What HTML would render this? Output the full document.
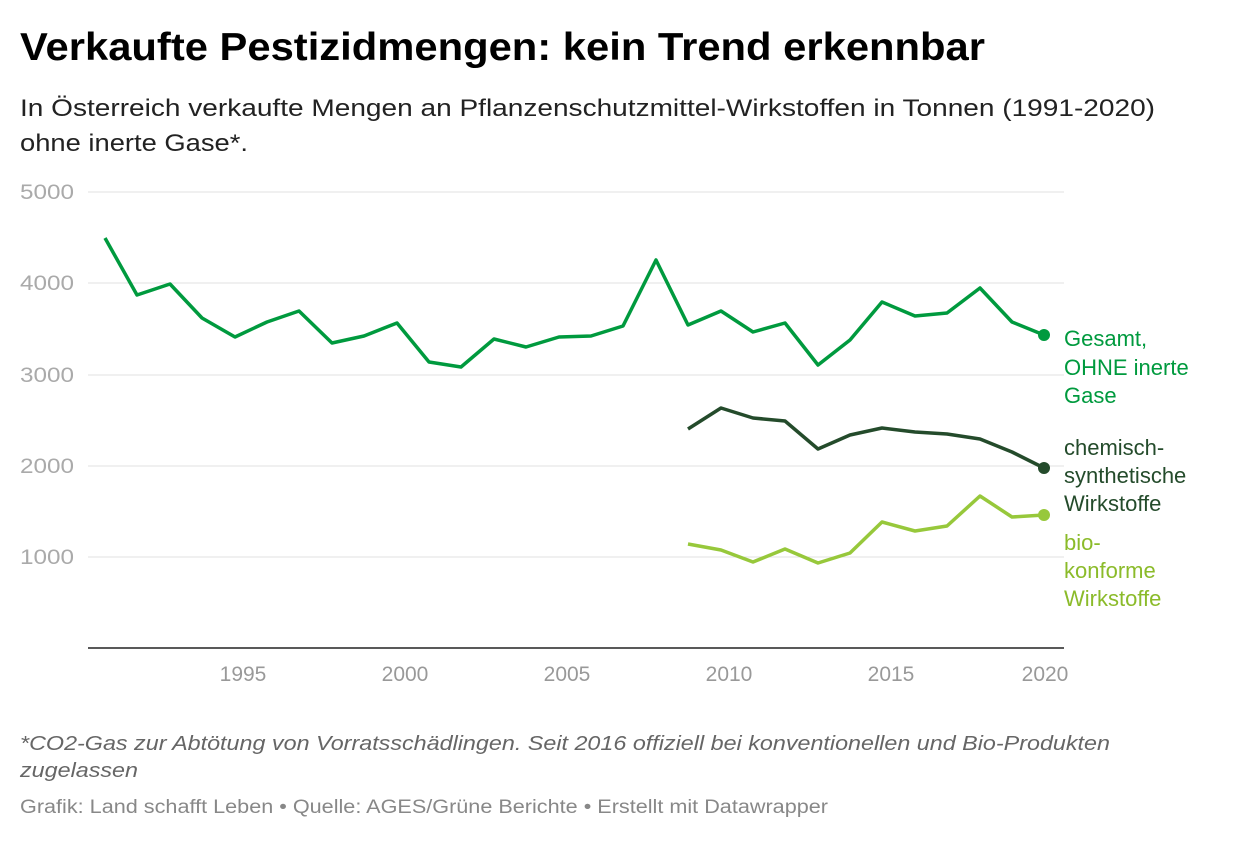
<!DOCTYPE html>
<html><head><meta charset="utf-8"><style>
body{margin:0;background:#fff;width:1240px;height:840px;overflow:hidden;font-family:"Liberation Sans",sans-serif}
</style></head><body>
<svg width="1240" height="840" xmlns="http://www.w3.org/2000/svg" font-family="Liberation Sans, sans-serif">
<text x="20" y="60" font-size="39" font-weight="bold" fill="#000" textLength="965" lengthAdjust="spacingAndGlyphs">Verkaufte Pestizidmengen: kein Trend erkennbar</text>
<text x="20" y="116" font-size="24" fill="#222" textLength="1135" lengthAdjust="spacingAndGlyphs">In Österreich verkaufte Mengen an Pflanzenschutzmittel-Wirkstoffen in Tonnen (1991-2020)</text>
<text x="20" y="151" font-size="24" fill="#222" textLength="228" lengthAdjust="spacingAndGlyphs">ohne inerte Gase*.</text>
<g stroke="#e0e0e0" stroke-width="1">
<line x1="88" x2="1064" y1="192" y2="192"/><line x1="88" x2="1064" y1="283" y2="283"/>
<line x1="88" x2="1064" y1="375" y2="375"/><line x1="88" x2="1064" y1="466" y2="466"/>
<line x1="88" x2="1064" y1="557" y2="557"/></g>
<line x1="88" x2="1064" y1="648" y2="648" stroke="#222" stroke-width="1.5"/>
<g font-size="21" fill="#aaa">
<text x="20" y="199" textLength="54" lengthAdjust="spacingAndGlyphs">5000</text><text x="20" y="290" textLength="54" lengthAdjust="spacingAndGlyphs">4000</text><text x="20" y="382" textLength="54" lengthAdjust="spacingAndGlyphs">3000</text>
<text x="20" y="473" textLength="54" lengthAdjust="spacingAndGlyphs">2000</text><text x="20" y="564" textLength="54" lengthAdjust="spacingAndGlyphs">1000</text></g>
<g font-size="21" fill="#999" text-anchor="middle">
<text x="243" y="681">1995</text><text x="405" y="681">2000</text><text x="567" y="681">2005</text>
<text x="729" y="681">2010</text><text x="891" y="681">2015</text><text x="1045" y="681">2020</text></g>
<g fill="none" stroke-width="3.5" stroke-linejoin="round">
<polyline stroke="#009a3e" points="105,238 137,295 170,284 202,318 235,337 267,322 299,311 332,343 364,336 397,323 429,362 461,367 494,339 526,347 559,337 591,336 623,326 656,260 688,325 721,311 753,332 785,323 818,365 850,340 882,302 915,316 947,313 980,288 1012,322 1044,335"/>
<polyline stroke="#244b2b" points="688,429 721,408 753,418 785,421 818,449 850,435 882,428 915,432 947,434 980,439 1012,452 1044,468"/>
<polyline stroke="#97c83b" points="688,544 721,550 753,562 785,549 818,563 850,553 882,522 915,531 947,526 980,496 1012,517 1044,515"/>
</g>
<circle cx="1044" cy="335" r="6" fill="#009a3e"/>
<circle cx="1044" cy="468" r="6" fill="#244b2b"/>
<circle cx="1044" cy="515" r="6" fill="#97c83b"/>
<g font-size="22">
<text fill="#009a3e"><tspan x="1064" y="346">Gesamt,</tspan><tspan x="1064" y="375">OHNE inerte</tspan><tspan x="1064" y="403">Gase</tspan></text>
<text fill="#244b2b"><tspan x="1064" y="455">chemisch-</tspan><tspan x="1064" y="483">synthetische</tspan><tspan x="1064" y="511">Wirkstoffe</tspan></text>
<text fill="#8bbb2a"><tspan x="1064" y="550">bio-</tspan><tspan x="1064" y="578">konforme</tspan><tspan x="1064" y="606">Wirkstoffe</tspan></text>
</g>
<text x="20" y="750" font-size="20" font-style="italic" fill="#666" textLength="1090" lengthAdjust="spacingAndGlyphs">*CO2-Gas zur Abtötung von Vorratsschädlingen. Seit 2016 offiziell bei konventionellen und Bio-Produkten</text>
<text x="20" y="777" font-size="20" font-style="italic" fill="#666" textLength="118" lengthAdjust="spacingAndGlyphs">zugelassen</text>
<text x="20" y="813" font-size="19" fill="#888" textLength="808" lengthAdjust="spacingAndGlyphs">Grafik: Land schafft Leben • Quelle: AGES/Grüne Berichte • Erstellt mit Datawrapper</text>
</svg>
</body></html>
